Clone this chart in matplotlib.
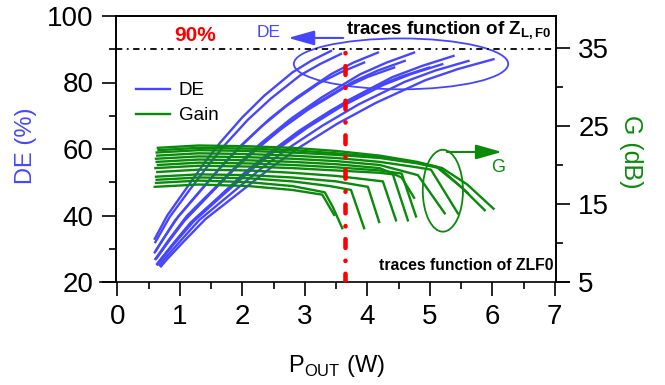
import matplotlib
matplotlib.use('Agg')
import matplotlib.pyplot as plt
from matplotlib.patches import Ellipse
from matplotlib.ticker import MultipleLocator, FixedLocator

plt.rcParams['font.family'] = 'Liberation Sans'
plt.rcParams['mathtext.fontset'] = 'custom'
plt.rcParams['mathtext.rm'] = 'Liberation Sans'
plt.rcParams['mathtext.bf'] = 'Liberation Sans:bold'

# drain efficiency traces, one per load impedance (Pout in W, DE in %)
de_pout = [
    [0.60, 0.80, 1.10, 1.40, 1.65, 2.00, 2.35, 2.80, 3.10, 3.42],
    [0.61, 0.84, 1.15, 1.47, 1.73, 2.09, 2.46, 2.93, 3.25, 3.58],
    [0.62, 0.92, 1.27, 1.62, 1.91, 2.31, 2.71, 3.23, 3.58, 3.95],
    [0.60, 0.73, 0.98, 1.34, 1.71, 2.01, 2.44, 2.87, 3.42, 3.78, 4.17],
    [0.63, 0.78, 1.04, 1.42, 1.81, 2.14, 2.59, 3.04, 3.63, 4.01, 4.43],
    [0.61, 0.83, 1.11, 1.53, 1.95, 2.29, 2.78, 3.27, 3.89, 4.31, 4.75],
    [0.64, 0.88, 1.17, 1.61, 2.04, 2.41, 2.92, 3.43, 4.09, 4.53, 4.99],
    [0.62, 0.81, 1.08, 1.48, 1.88, 2.22, 2.69, 3.16, 3.77, 4.17, 4.60],
    [0.64, 0.71, 0.94, 1.26, 1.73, 2.20, 2.60, 3.15, 3.70, 4.40, 4.88, 5.38],
    [0.68, 0.74, 0.99, 1.31, 1.81, 2.30, 2.71, 3.29, 3.86, 4.60, 5.09, 5.62],
    [0.70, 0.79, 1.06, 1.41, 1.94, 2.46, 2.90, 3.52, 4.14, 4.93, 5.46, 6.02],
    [0.65, 0.68, 0.91, 1.22, 1.67, 2.13, 2.51, 3.04, 3.57, 4.26, 4.71, 5.20],
]
de_eff = [
    [33.0, 40.0, 48.0, 56.0, 62.0, 69.5, 76.0, 83.0, 86.5, 89.5],
    [32.0, 39.6, 47.5, 55.4, 61.4, 68.8, 75.2, 82.2, 85.6, 88.6],
    [29.5, 38.4, 46.1, 53.8, 59.6, 66.8, 73.0, 79.8, 83.1, 86.0],
    [28.9, 32.8, 39.8, 47.7, 55.7, 61.6, 69.1, 75.5, 82.5, 86.0, 89.0],
    [27.2, 31.2, 37.8, 45.3, 52.9, 58.5, 65.6, 71.7, 78.4, 81.7, 84.5],
    [26.9, 32.8, 39.8, 47.7, 55.7, 61.6, 69.1, 75.5, 82.5, 86.0, 89.0],
    [25.5, 31.2, 37.8, 45.3, 52.9, 58.5, 65.6, 71.7, 78.4, 81.7, 84.5],
    [27.0, 31.9, 38.6, 46.4, 54.1, 59.9, 67.1, 73.4, 80.2, 83.6, 86.5],
    [25.3, 27.0, 32.4, 39.3, 47.2, 55.0, 60.9, 68.3, 74.7, 81.6, 85.0, 88.0],
    [25.1, 26.6, 31.9, 38.6, 46.4, 54.1, 59.9, 67.1, 73.4, 80.2, 83.6, 86.5],
    [24.7, 26.7, 32.1, 38.9, 46.7, 54.4, 60.3, 67.6, 73.9, 80.7, 84.1, 87.0],
    [25.4, 26.3, 31.5, 38.2, 45.8, 53.5, 59.2, 66.4, 72.6, 79.3, 82.6, 85.5],
]

# gain traces (Pout in W, G in dB)
gain_pout = [
    [0.60, 1.3, 2.1, 2.8, 3.28, 3.47],
    [0.62, 1.3, 2.1, 2.8, 3.32, 3.45, 3.60],
    [0.63, 1.3, 2.1, 2.8, 3.4, 3.74, 3.95],
    [0.62, 1.3, 2.1, 2.8, 3.5, 4.01, 4.19],
    [0.64, 1.3, 2.1, 2.8, 3.5, 4.25, 4.46],
    [0.61, 1.3, 2.1, 2.8, 3.5, 4.2, 4.41, 4.65],
    [0.65, 1.3, 2.1, 2.8, 3.5, 4.2, 4.55, 4.78],
    [0.63, 1.3, 2.1, 2.8, 3.5, 4.2, 4.55, 4.75],
    [0.62, 1.3, 2.1, 2.8, 3.5, 4.2, 4.81, 5.24],
    [0.64, 1.3, 2.1, 2.8, 3.5, 4.2, 4.8, 5.02, 5.45],
    [0.63, 1.3, 2.1, 2.8, 3.5, 4.2, 4.8, 5.16, 5.61],
    [0.66, 1.3, 2.1, 2.8, 3.5, 4.2, 4.8, 5.1, 5.5, 5.88],
    [0.65, 1.3, 2.1, 2.8, 3.5, 4.2, 4.8, 5.2, 5.6, 6.02],
]
gain_db = [
    [17.2, 17.5, 17.3, 16.8, 16.2, 13.6],
    [17.7, 18.0, 17.8, 17.3, 16.5, 14.6, 11.9],
    [18.1, 18.4, 18.3, 17.9, 17.3, 16.8, 11.9],
    [18.5, 18.8, 18.7, 18.4, 17.9, 17.2, 12.7],
    [19.1, 19.4, 19.3, 19.0, 18.6, 17.9, 12.9],
    [19.6, 19.9, 19.8, 19.6, 19.3, 19.0, 18.8, 12.9],
    [20.0, 20.3, 20.2, 20.0, 19.7, 19.3, 18.9, 13.4],
    [20.4, 20.7, 20.6, 20.4, 20.1, 19.6, 18.4, 15.8],
    [20.8, 21.1, 21.0, 20.8, 20.5, 20.0, 18.7, 13.8],
    [21.2, 21.5, 21.4, 21.2, 20.9, 20.4, 19.7, 19.4, 13.8],
    [21.6, 21.9, 21.8, 21.6, 21.3, 20.9, 20.2, 19.6, 16.4],
    [21.9, 22.2, 22.1, 21.9, 21.5, 21.0, 20.3, 19.8, 17.2, 14.2],
    [22.2, 22.5, 22.4, 22.2, 21.8, 21.2, 20.4, 19.6, 17.5, 14.4],
]

de_target = 90      # efficiency level marked by the dash-dot line
p_marker = 3.64     # output power of the vertical marker

blue = '#4646ff'
green = '#0a8a0a'

fig = plt.figure(figsize=(6.65, 3.85), dpi=100)
ax = fig.add_axes([116/665, 1 - 282/385, 440/665, 266/385])
ax2 = ax.twinx()

for p, d in zip(de_pout, de_eff):
    h_de, = ax.plot(p, d, color=blue, lw=1.7)
for p, g in zip(gain_pout, gain_db):
    h_g, = ax2.plot(p, g, color=green, lw=1.7)

ax.set_xlim(-0.02, 7.02)
ax.set_ylim(20, 100)
ax2.set_ylim(5, 39.1)

# 90 % line and the vertical marker
ax.axhline(de_target, color='k', lw=1.3, dashes=(3.5, 2.5, 1, 2.5))
ax2.plot([p_marker, p_marker], [5, 35.1], color='red', lw=3.3,
         dashes=(1.9, 2.8, 0.05, 2.8), dash_capstyle='round')
ax.text(1.245, 94.1, '90%', color='red', fontsize=15, fontweight='bold',
        ha='center', va='center')

# DE group
ax.add_patch(Ellipse((4.54, 85.6), 3.43, 15.3, fill=False, ec=blue, lw=1.3))
ax.annotate('', xy=(2.69, 93.4), xytext=(3.66, 93.4),
            arrowprops=dict(arrowstyle='-|>,head_length=1.6,head_width=0.45',
                            mutation_scale=10, color=blue, lw=1.5))
ax.text(2.43, 95.1, 'DE', color=blue, fontsize=12.5, ha='center', va='center')

# gain group
ax2.add_patch(Ellipse((5.21, 16.7), 0.643, 10.5, fill=False, ec=green, lw=1.3))
ax2.annotate('', xy=(6.2, 21.67), xytext=(5.23, 21.67),
             arrowprops=dict(arrowstyle='-|>,head_length=1.6,head_width=0.45',
                             mutation_scale=10, color=green, lw=1.5))
ax2.text(6.10, 19.68, 'G', color=green, fontsize=13, ha='center', va='center')

ax2.text(0.989, 0.9286, r'traces function of Z$_{\mathbf{L,F0}}$', transform=ax2.transAxes,
         fontsize=13.5, fontweight='bold', ha='right', va='baseline')
ax2.text(0.995, 0.045, 'traces function of ZLF0', transform=ax2.transAxes,
         fontsize=11.3, fontweight='bold', ha='right', va='baseline')

ax2.legend([h_de, h_g], ['DE', 'Gain'], loc='upper left', bbox_to_anchor=(0.045, 0.751),
           frameon=False, fontsize=13.5, handlelength=1.8, handletextpad=0.5,
           labelspacing=0.42, borderpad=0, borderaxespad=0)

# ticks
ax.xaxis.set_major_locator(MultipleLocator(1))
ax.xaxis.set_minor_locator(MultipleLocator(0.5))
ax.yaxis.set_major_locator(MultipleLocator(20))
ax.yaxis.set_minor_locator(MultipleLocator(10))
ax2.yaxis.set_major_locator(FixedLocator([5, 15, 25, 35]))
ax2.yaxis.set_minor_locator(FixedLocator([10, 20, 30]))
for a in (ax, ax2):
    a.tick_params(which='major', direction='out', length=10, width=1.2, labelsize=20, pad=6)
    a.tick_params(which='minor', direction='out', length=5, width=1.2)
    a.spines['bottom'].set_visible(False)
    for s in a.spines.values():
        s.set_linewidth(1.2)

# x axis line runs a bit past the frame
ax.plot([-0.036, 1.029], [0, 0], transform=ax.transAxes, color='k', lw=1.2, clip_on=False)

fig.text(26/665, 1 - 146/385, 'DE (%)', color=blue, fontsize=17, rotation=90,
         ha='center', va='center')
fig.text(631/665, 1 - 152/385, 'G (dB)', color=green, fontsize=18, rotation=-90,
         ha='center', va='center')
fig.text(336/665, 1 - 366/385, r'P$_{\mathrm{OUT}}$ (W)', fontsize=17,
         ha='center', va='center')

fig.savefig('out.png', dpi=100)
